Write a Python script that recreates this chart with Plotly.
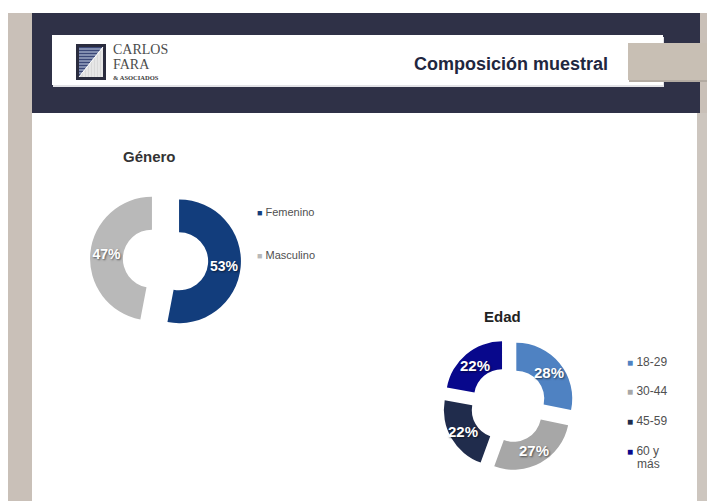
import math
import plotly.graph_objects as go

# ---- data ----
genero_labels = ["Femenino", "Masculino"]
genero_values = [53, 47]
genero_colors = ["#123d7c", "#b9b9b9"]

edad_labels = ["18-29", "30-44", "45-59", "60 y<br>más"]
edad_values = [28, 27, 22, 22]
edad_colors = ["#4f82c2", "#a7a7a7", "#202c4c", "#08088c"]

W, H = 707, 501


def X(px):
    return px / W


def Y(py):
    return 1 - py / H


def rect(x0, y0, x1, y1, fill, line=None, lw=0):
    return dict(type="rect", xref="paper", yref="paper", layer="below",
                x0=X(x0), x1=X(x1), y0=Y(y1), y1=Y(y0),
                fillcolor=fill, line=dict(color=line or fill, width=lw))


def path(points, fill):
    d = "M " + " L ".join(f"{X(a):.5f},{Y(b):.5f}" for a, b in points) + " Z"
    return dict(type="path", xref="paper", yref="paper", layer="below",
                path=d, fillcolor=fill, line=dict(width=0))


def seg(x0, y0, x1, y1, color, w=1):
    return dict(type="line", xref="paper", yref="paper", layer="below",
                x0=X(x0), x1=X(x1), y0=Y(y0), y1=Y(y1),
                line=dict(color=color, width=w))


fig = go.Figure()

text_font = dict(family="Liberation Sans, Arial, sans-serif", color="white",
                 weight="bold", shadow="1px 1px 2px rgba(0,0,0,0.55)")

# Género donut
fig.add_trace(go.Pie(
    labels=genero_labels, values=genero_values,
    marker=dict(colors=genero_colors, line=dict(color="rgba(255,255,255,0)", width=0)),
    hole=0.47, pull=0.22, sort=False, direction="clockwise", rotation=0,
    texttemplate="%{value}%", textposition="inside",
    insidetextorientation="horizontal",
    textfont=dict(size=14, **text_font),
    domain=dict(x=[X(90), X(241)], y=[Y(335.5), Y(184.5)]),
    showlegend=False, hoverinfo="label+percent",
))

# Edad donut; its percentage labels are placed at each slice's mid-angle below
edad_hole, edad_pull = 0.5, 0.18
edad_box = (442.5, 339, 574.5, 471)  # left, top, right, bottom in pixels
fig.add_trace(go.Pie(
    labels=edad_labels, values=edad_values,
    marker=dict(colors=edad_colors, line=dict(color="rgba(255,255,255,0)", width=0)),
    hole=edad_hole, pull=edad_pull, sort=False, direction="clockwise", rotation=0,
    textinfo="none",
    domain=dict(x=[X(edad_box[0]), X(edad_box[2])], y=[Y(edad_box[3]), Y(edad_box[1])]),
    showlegend=False, hoverinfo="label+percent",
))

cx = (edad_box[0] + edad_box[2]) / 2
cy = (edad_box[1] + edad_box[3]) / 2
r = min(edad_box[2] - edad_box[0], edad_box[3] - edad_box[1]) / (2 + 2 * edad_pull)
dist = r * edad_pull + r * (1 + edad_hole) / 2
total = sum(edad_values)
acc = 0
for v in edad_values:
    mid = (acc + v / 2) / total * 2 * math.pi
    acc += v
    tx = cx + dist * math.sin(mid)
    ty = cy - dist * math.cos(mid)
    fig.add_annotation(x=X(tx), y=Y(ty), xref="paper", yref="paper",
                       text=f"{v}%", showarrow=False, xanchor="center", yanchor="middle",
                       font=dict(size=15, **text_font))

shapes = [
    # slide frame
    rect(8, 13, 32, 501, "#c9c0b8"),
    rect(32, 13, 700, 113, "#2f3147"),
    rect(697, 113, 707, 501, "#cdc6bf"),
    rect(700, 13, 707, 113, "#c9c0b8"),
    # header white box and side tab
    rect(53, 37, 664, 87, "#e2e2e6"),
    rect(52, 35, 663, 85, "#ffffff"),
    rect(629, 45, 707, 82, "#b3aba2"),
    rect(628, 43, 707, 80, "#c8bfb4"),
    # logo mark
    rect(76, 44, 106, 80, "#2a2c3e"),
    rect(79, 47, 103, 77, "#ffffff"),
    path([(79, 47), (103, 47), (79, 77)], "#3b4878"),
    path([(103, 47), (103, 77), (79, 77)], "#d9d9d9"),
]
for yy in range(49, 76, 3):
    xe = 79 + (103 - 79) * (77 - yy) / 30
    shapes.append(seg(79, yy, xe, yy, "#c9d2e6", 1))
for xx in range(84, 103, 3):
    ys = 47 + (103 - xx) * 30 / 24
    shapes.append(seg(xx, ys, xx, 77, "#f4f4f4", 1))
shapes.append(seg(79, 77, 103, 47, "#ffffff", 1))

fig.update_layout(shapes=shapes)


def note(px, py, text, size, color="#333333", family="Liberation Sans, Arial, sans-serif",
         weight="normal", xanchor="left", yanchor="middle"):
    fig.add_annotation(x=X(px), y=Y(py), xref="paper", yref="paper", text=text,
                       showarrow=False, xanchor=xanchor, yanchor=yanchor, borderpad=0,
                       font=dict(size=size, color=color, family=family, weight=weight),
                       align="left")


serif = "Liberation Serif, Times New Roman, serif"
note(112, 50, "CARLOS", 14, "#4b4b4b", serif)
note(112, 64.5, "FARA", 14, "#4b4b4b", serif)
note(112, 77.5, "&amp; ASOCIADOS", 6.5, "#3a3a3a", serif, weight="bold")
note(511, 64, "Composición muestral", 18, "#1f2740", weight="bold", xanchor="center")

note(149, 156, "Género", 15, "#333333", weight="bold", xanchor="center")
note(502, 316, "Edad", 15, "#222222", weight="bold", xanchor="center")


def legend_item(px, py, color, label, size):
    text = f'<span style="color:{color};font-size:{size - 2}px">■</span> {label}'
    note(px, py, text, size, "#505050")


legend_item(256, 212, genero_colors[0], genero_labels[0], 11)
legend_item(256, 255, genero_colors[1], genero_labels[1], 11)

edad_y = [362, 391, 421, 451]
for yy, c, lab in zip(edad_y, edad_colors, edad_labels):
    if "<br>" in lab:
        first, second = lab.split("<br>")
        legend_item(626, yy, c, first, 12)
        note(636, yy + 13, second, 12, "#505050")
    else:
        legend_item(626, yy, c, lab, 12)

fig.update_layout(
    width=W, height=H,
    margin=dict(l=0, r=0, t=0, b=0),
    paper_bgcolor="#ffffff",
    plot_bgcolor="#ffffff",
)

fig.write_html("out.html")
